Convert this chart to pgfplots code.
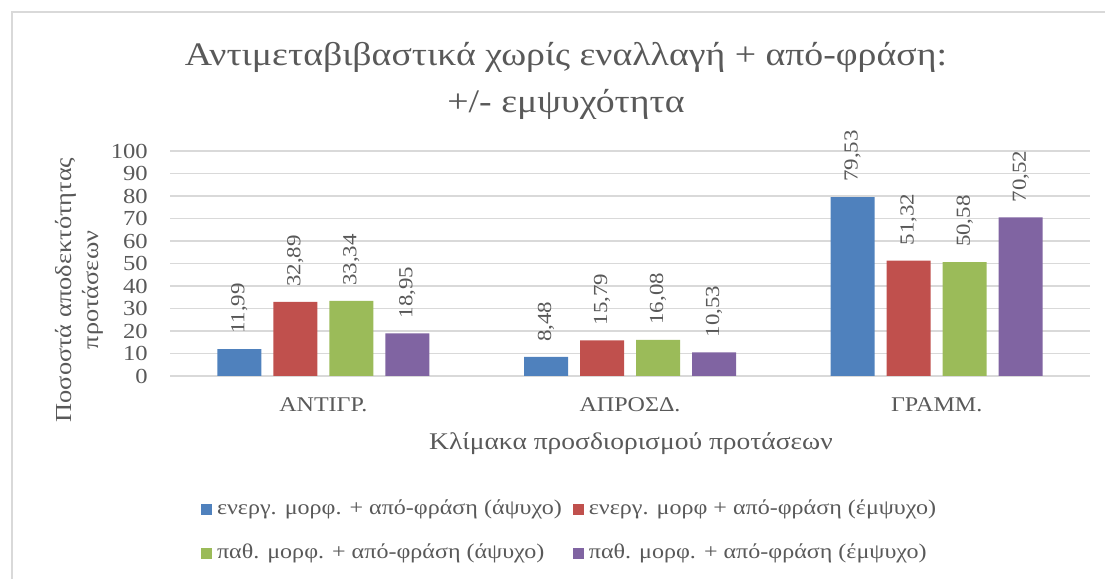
\documentclass[border=0pt]{standalone}
\usepackage{fontspec}
\setmainfont{Liberation Serif}[FakeStretch=1.15]
\usepackage{pgfplots}
\pgfplotsset{compat=1.18}
\definecolor{sblue}{HTML}{4F81BD}
\definecolor{sred}{HTML}{C0504D}
\definecolor{sgreen}{HTML}{9BBB59}
\definecolor{spurple}{HTML}{8064A2}
\definecolor{txt}{HTML}{595959}
\definecolor{gridc}{HTML}{D9D9D9}
\begin{document}
\begin{tikzpicture}[x=1bp,y=1bp]
\useasboundingbox (0,0) rectangle (1105,579);
\draw[gridc, line width=1.5bp] (12,0) -- (12,567) -- (1105,567);
\node[txt, anchor=base, inner sep=0pt, font=\fontsize{33}{40}\selectfont] at (566,513)
  {Αντιμεταβιβαστικά χωρίς εναλλαγή + από-φράση:};
\node[txt, anchor=base, inner sep=0pt, font=\fontsize{33}{40}\selectfont] at (566,466)
  {+/- εμψυχότητα};
\node[txt, align=center, rotate=90, font=\fontsize{23}{27}\selectfont] at (79,289)
  {Ποσοστά αποδεκτότητας\\προτάσεων};
\node[txt, anchor=base, inner sep=0pt, font=\fontsize{24}{28}\selectfont] at (631,129) {Κλίμακα προσδιορισμού προτάσεων};
\begin{axis}[
  at={(170bp,203bp)}, anchor=south west,
  scale only axis, width=920bp, height=225bp,
  xmin=-0.5, xmax=2.5, ymin=0, ymax=100,
  ybar=12bp, bar width=44bp,
  axis line style={draw=none},
  tick style={draw=none},
  xtick={0,1,2},
  xticklabels={ΑΝΤΙΓΡ., ΑΠΡΟΣΔ., ΓΡΑΜΜ.},
  ytick={0,10,...,100},
  ymajorgrids,
  grid style={gridc, line width=1.5bp},
  /pgf/number format/assume math mode=true,
  yticklabel style={txt, font=\fontsize{21.5}{24}\selectfont, anchor=east, inner xsep=0pt, xshift=-22bp},
  xticklabel style={txt, font=\fontsize{21}{24}\selectfont, anchor=base, inner sep=0pt, yshift=-31bp},
  nodes near coords,
  nodes near coords style={txt, rotate=90, anchor=west, inner xsep=15bp, inner ysep=0pt,
    font=\fontsize{20}{24}\selectfont,
    /pgf/number format/.cd, use comma, fixed, fixed zerofill, precision=2},
  legend columns=2,
  legend cell align=left,
  legend style={at={(axis description cs:0.4332,-0.6933)}, anchor=center, draw=none,
    fill=none, font=\fontsize{21}{24}\selectfont, text=txt, row sep=20bp,
    nodes={inner xsep=0pt, inner ysep=2bp, text height=15bp, text depth=5bp},
    /tikz/every odd column/.append style={column sep=5bp},
    /tikz/every even column/.append style={column sep=11bp}},
  legend image code/.code={\fill (0bp,-5.5bp) rectangle (11bp,5.5bp);},
]
\addplot[fill=sblue, draw=none] coordinates {(0,11.99) (1,8.48) (2,79.53)};
\addplot[fill=sred, draw=none] coordinates {(0,32.89) (1,15.79) (2,51.32)};
\addplot[fill=sgreen, draw=none] coordinates {(0,33.34) (1,16.08) (2,50.58)};
\addplot[fill=spurple, draw=none] coordinates {(0,18.95) (1,10.53) (2,70.52)};
\legend{ενεργ. μορφ. + από-φράση (άψυχο), ενεργ. μορφ + από-φράση (έμψυχο), παθ. μορφ. + από-φράση (άψυχο), παθ. μορφ. + από-φράση (έμψυχο)}
\end{axis}
\end{tikzpicture}
\end{document}
